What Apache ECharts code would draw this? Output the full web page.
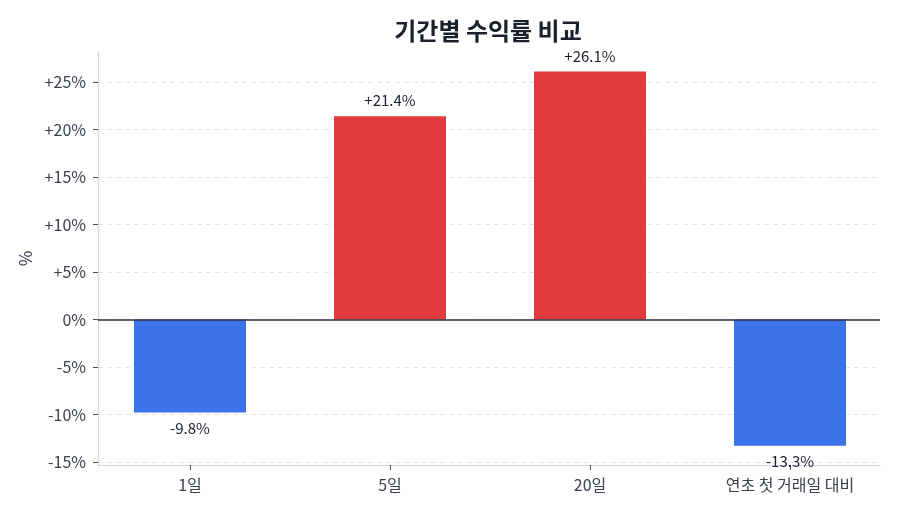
<!DOCTYPE html>
<html>
<head>
<meta charset="utf-8">
<script src="https://cdn.jsdelivr.net/npm/echarts@6/dist/echarts.min.js"></script>
<style>
  html, body { margin: 0; padding: 0; background: #fff; }
  #container { width: 900px; height: 514px; }
</style>
</head>
<body>
<div id="container"></div>
<script>
// 기간별 수익률 (%)
var categories = ['1일', '5일', '20일', '연초 첫 거래일 대비'];
var returns = [-9.8, 21.4, 26.1, -13.3];
var yTicks = [-15, -10, -5, 0, 5, 10, 15, 20, 25];

var upColor = '#e03a3c';
var downColor = '#3b73ea';
var fontName = '"Noto Sans CJK KR", "Noto Sans", sans-serif';

function pct(v) {
    return (v > 0 ? '+' : '') + v + '%';
}

function initChart(echarts) {
    var myChart = echarts.init(document.getElementById('container'));

    var barData = [];
    for (var i = 0; i < returns.length; i++) {
        var v = returns[i];
        barData.push({
            value: [i, v],
            itemStyle: { color: v >= 0 ? upColor : downColor },
            label: { position: v >= 0 ? 'top' : 'bottom' }
        });
    }

    var option = {
        backgroundColor: '#fff',
        textStyle: { fontFamily: fontName },
        title: {
            text: '기간별 수익률 비교',
            left: 483,
            textAlign: 'center',
            top: 14,
            textStyle: { fontSize: 24, fontWeight: 'bold', color: '#1a202c', fontFamily: fontName }
        },
        grid: { left: 98, right: 20, top: 52, bottom: 49 },
        xAxis: {
            type: 'value',
            min: -0.46,
            max: 3.45,
            axisLine: { show: true, onZero: false, lineStyle: { color: '#cfd4de', width: 1.2 } },
            axisTick: { show: true, length: 5, customValues: [0, 1, 2, 3], lineStyle: { color: '#4a5060' } },
            axisLabel: {
                customValues: [0, 1, 2, 3],
                formatter: function (v) { return categories[Math.round(v)]; },
                color: '#3a4050', fontSize: 16, margin: 12
            },
            splitLine: { show: false }
        },
        yAxis: {
            type: 'value',
            min: -15.32,
            max: 28.16,
            name: '%',
            nameLocation: 'middle',
            nameGap: 62,
            nameRotate: 90,
            nameTextStyle: { fontSize: 17, color: '#3a4050' },
            axisLine: { show: true, onZero: false, lineStyle: { color: '#cfd4de', width: 1.2 } },
            axisTick: { show: true, length: 5, customValues: yTicks, lineStyle: { color: '#4a5060' } },
            axisLabel: {
                customValues: yTicks,
                formatter: function (v) { return (v > 0 ? '+' : '') + v + '%'; },
                color: '#3a4050', fontSize: 16, margin: 12
            },
            splitLine: { show: true, lineStyle: { color: '#e3e6ec', type: [5, 4] } }
        },
        series: [{
            type: 'bar',
            barWidth: 112,
            data: barData,
            label: {
                show: true,
                distance: 8,
                fontSize: 15,
                color: '#1a202c',
                formatter: function (p) { return pct(p.value[1]); }
            },
            markLine: {
                silent: true,
                symbol: 'none',
                label: { show: false },
                lineStyle: { color: '#2d3142', width: 1.5, type: 'solid' },
                data: [{ yAxis: 0 }]
            }
        }]
    };

    myChart.setOption(option);
}

initChart(echarts);
</script>
</body>
</html>
